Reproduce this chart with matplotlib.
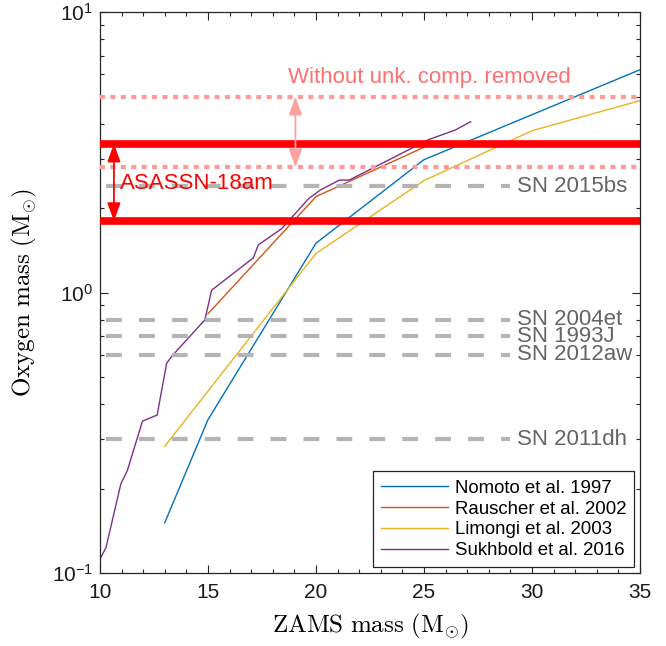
import numpy as np
import matplotlib
matplotlib.use("Agg")
import matplotlib.pyplot as plt
from matplotlib.ticker import MultipleLocator, LogLocator, NullFormatter

plt.rcParams['font.family'] = ['Liberation Sans', 'DejaVu Sans']
plt.rcParams['mathtext.fontset'] = 'custom'
plt.rcParams['mathtext.rm'] = 'Liberation Sans'
plt.rcParams['mathtext.it'] = 'Liberation Sans:italic'

# model curves: ZAMS mass vs oxygen mass
nomoto_m = [13, 15, 20, 25, 35]
nomoto_o = [0.151, 0.352, 1.50, 2.98, 6.24]

rauscher_m = [15, 20, 25]
rauscher_o = [0.84, 2.20, 3.30]

limongi_m = [13, 20, 25, 30, 35]
limongi_o = [0.283, 1.38, 2.51, 3.78, 4.84]

sukhbold_m = [10.0, 10.28, 10.97, 11.27, 11.97, 12.65, 13.09, 13.35, 14.86, 15.17,
              17.1, 17.33, 18.41, 19.65, 20.19, 21.08, 21.54, 25.2, 26.44, 27.16]
sukhbold_o = [0.112, 0.123, 0.208, 0.232, 0.348, 0.366, 0.56, 0.596, 0.80, 1.02,
              1.33, 1.48, 1.69, 2.16, 2.32, 2.52, 2.52, 3.51, 3.80, 4.07]

model_labels = ["Nomoto et al. 1997", "Rauscher et al. 2002",
                "Limongi et al. 2003", "Sukhbold et al. 2016"]

# ASASSN-18am oxygen mass range
asassn_range = [1.8, 3.4]
asassn_raw_range = [2.8, 5.0]

# other SNe
sn_names = ["SN 2015bs", "SN 2004et", "SN 1993J", "SN 2012aw", "SN 2011dh"]
sn_oxygen = [2.4, 0.8, 0.7, 0.6, 0.3]

fig = plt.figure(figsize=(6.66, 6.46), dpi=100)
ax = fig.add_axes([0.150, 0.113, 0.811, 0.868])

ax.plot(nomoto_m, nomoto_o, color='#0072BD', lw=1.0, label=model_labels[0])
ax.plot(rauscher_m, rauscher_o, color='#D95319', lw=1.0, label=model_labels[1])
ax.plot(limongi_m, limongi_o, color='#EDB120', lw=1.0, label=model_labels[2])
ax.plot(sukhbold_m, sukhbold_o, color='#7E2F8E', lw=1.0, label=model_labels[3])

for yv in asassn_raw_range:
    ax.plot([10, 35], [yv, yv], color='#FF9A9A', lw=3, ls=(0, (1.2, 1.3)), zorder=3)
for yv in asassn_range:
    ax.plot([10, 35], [yv, yv], color='#FF0000', lw=5.5, zorder=4,
            solid_capstyle='butt')

for name, yv in zip(sn_names, sn_oxygen):
    ax.plot([10.3, 29], [yv, yv], color='#B4B4B4', lw=3, ls=(0, (3.8, 4.1)), zorder=3)
    ax.text(29.3, yv, name, color='#646464', fontsize=16, va='center', ha='left')

ax.annotate('', xy=(10.65, asassn_range[0]), xytext=(10.65, asassn_range[1]),
            arrowprops=dict(arrowstyle='<|-|>,head_length=0.55,head_width=0.2',
                            mutation_scale=20, color='#FF0000', lw=1.3,
                            shrinkA=0, shrinkB=0), zorder=5)
ax.text(10.93, 2.45, 'ASASSN-18am', color='#FF0000', fontsize=16, va='center', ha='left')

ax.annotate('', xy=(19.05, asassn_raw_range[0]), xytext=(19.05, asassn_raw_range[1]),
            arrowprops=dict(arrowstyle='<|-|>,head_length=0.55,head_width=0.2',
                            mutation_scale=20, color='#FFA0A0', lw=1.3,
                            shrinkA=0, shrinkB=0), zorder=5)
ax.text(25.23, 5.85, 'Without unk. comp. removed', color='#FF7070', fontsize=16,
        va='center', ha='center')

ax.set_xscale('linear')
ax.set_yscale('log')
ax.set_xlim(10, 35)
ax.set_ylim(0.1, 10)

ax.xaxis.set_major_locator(MultipleLocator(5))
ax.xaxis.set_minor_locator(MultipleLocator(1))
ax.yaxis.set_minor_locator(LogLocator(base=10, subs=np.arange(2, 10)))
ax.yaxis.set_minor_formatter(NullFormatter())
ax.tick_params(which='both', direction='in', top=True, right=True,
               labelsize=15, color='#262626', labelcolor='#1a1a1a')
ax.tick_params(which='major', length=6, width=0.8)
ax.tick_params(which='minor', length=3, width=0.8)
ax.tick_params(axis='x', pad=7)
ax.tick_params(axis='y', pad=5)
for sp in ax.spines.values():
    sp.set_color('#262626')
    sp.set_linewidth(0.9)

ax.set_xlabel(r'$\mathrm{ZAMS\ mass\ (M_{\odot})}$', fontsize=18,
              math_fontfamily='cm', labelpad=7)
ax.set_ylabel(r'$\mathrm{Oxygen\ mass\ (M_{\odot})}$', fontsize=18,
              math_fontfamily='cm', labelpad=9)

leg = ax.legend(loc='lower right', fontsize=13.4, handlelength=3.6,
                labelspacing=0.2, handletextpad=0.35, borderpad=0.45,
                borderaxespad=0.3, fancybox=False, framealpha=1,
                edgecolor='#262626')
leg.get_frame().set_linewidth(0.9)
leg.set_zorder(10)

fig.savefig('out.png', dpi=100)
